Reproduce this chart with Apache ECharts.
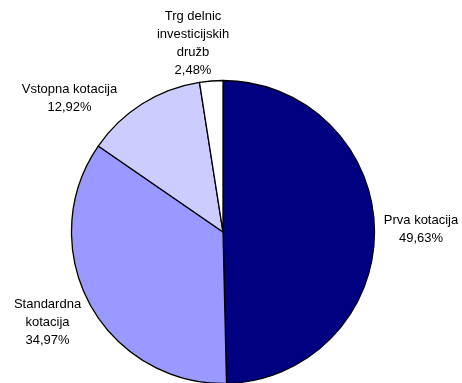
<!DOCTYPE html>
<html>
<head>
<meta charset="utf-8">
<script src="https://cdn.jsdelivr.net/npm/echarts@6/dist/echarts.min.js"></script>
<style>html,body{margin:0;padding:0;background:#fff}#c{width:462px;height:383px}</style>
</head>
<body>
<div id="c"></div>
<script>
const categories = ['Prva kotacija', 'Standardna\nkotacija', 'Vstopna kotacija', 'Trg delnic\ninvesticijskih\ndružb'];
const values = [49.63, 34.97, 12.92, 2.48];
const colors = ['#000080', '#9999FF', '#CCCCFF', '#FFFFFF'];
// label anchor points (centre of each label block), layout only
const labelPos = [[421, 229], [47.5, 322], [69.5, 98.5], [193, 43]];

const chart = echarts.init(document.getElementById('c'), null, {renderer: 'canvas'});
chart.setOption({
  animation: false,
  series: [{
    type: 'pie',
    center: [223, 232],
    radius: 151.5,
    startAngle: 90,
    clockwise: true,
    avoidLabelOverlap: false,
    data: categories.map((n, i) => ({name: n, value: values[i], itemStyle: {color: colors[i]}})),
    itemStyle: {borderColor: '#000', borderWidth: 1.3},
    label: {
      show: true,
      position: 'outside',
      fontFamily: 'Liberation Sans, Arial, sans-serif',
      fontSize: 13,
      color: '#000',
      lineHeight: 18,
      formatter: p => p.name + '\n' + p.value.toFixed(2).replace('.', ',') + '%'
    },
    labelLine: {show: false},
    labelLayout: p => ({
      x: labelPos[p.dataIndex][0],
      y: labelPos[p.dataIndex][1],
      align: 'center',
      verticalAlign: 'middle'
    }),
    emphasis: {disabled: true}
  }]
});
</script>
</body>
</html>
